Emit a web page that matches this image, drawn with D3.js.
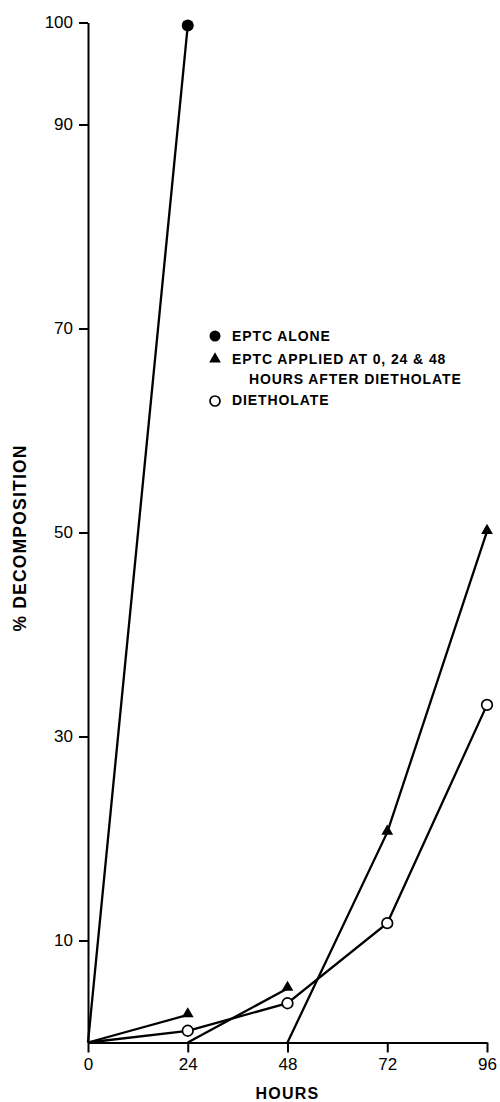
<!DOCTYPE html>
<html>
<head>
<meta charset="utf-8">
<script src="https://cdn.jsdelivr.net/npm/d3@7"></script>
<style>
  html, body { margin: 0; padding: 0; background: #fff; }
  svg { display: block; }
  text { font-family: Arial, "Liberation Sans", Helvetica, sans-serif; fill: #000; }
</style>
</head>
<body>
<svg id="chart" width="500" height="1102"></svg>
<script>
// ---- data ----
const xTicks = [0, 24, 48, 72, 96];
const yTicks = [10, 30, 50, 70, 90, 100];
const xLabel = "HOURS";
const yLabel = "% DECOMPOSITION";

// EPTC alone (filled circles)
const eptcAloneHours = [0, 24];
const eptcAloneValues = [0, 99.7];

// EPTC applied at 0, 24 & 48 hours after dietholate (filled triangles), three segments
const appliedAt0Hours = [0, 24];
const appliedAt0Values = [0, 2.7];
const appliedAt24Hours = [24, 48];
const appliedAt24Values = [0, 5.3];
const appliedAt48Hours = [48, 72, 96];
const appliedAt48Values = [0, 20.6, 50.1];

// Dietholate (open circles)
const dietholateHours = [0, 24, 48, 72, 96];
const dietholateValues = [0, 1.15, 3.85, 11.7, 33.1];

const legendLabels = [
  ["EPTC ALONE"],
  ["EPTC APPLIED AT 0, 24 & 48", "HOURS AFTER DIETHOLATE"],
  ["DIETHOLATE"]
];

// ---- chart ----
const svg = d3.select("#chart");
const x = d3.scaleLinear().domain([0, 96]).range([88, 487]);
const y = d3.scaleLinear().domain([0, 100]).range([1042.5, 22.5]);

const zip = (xs, ys) => xs.map((h, i) => ({ h, v: ys[i] }));

// axes
const yAxis = d3.axisLeft(y).tickValues(yTicks).tickSize(9).tickSizeOuter(0).tickPadding(6);
const gy = svg.append("g").attr("transform", `translate(${x(0)},0)`).call(yAxis);
gy.select(".domain").attr("stroke", "#000").attr("stroke-width", 2);
gy.selectAll(".tick line").attr("stroke", "#000").attr("stroke-width", 2);
gy.selectAll(".tick text").attr("font-size", 17).attr("font-family", "Arial, 'Liberation Sans', sans-serif").attr("fill", "#000");

const xAxis = d3.axisBottom(x).tickValues(xTicks).tickSize(10).tickSizeOuter(0).tickPadding(5);
const gx = svg.append("g").attr("transform", `translate(0,${y(0)})`).call(xAxis);
gx.select(".domain").attr("stroke", "#000").attr("stroke-width", 2);
gx.selectAll(".tick line").attr("stroke", "#000").attr("stroke-width", 2);
gx.selectAll(".tick text").attr("font-size", 17).attr("font-family", "Arial, 'Liberation Sans', sans-serif").attr("fill", "#000");

// axis titles
svg.append("text")
  .attr("x", (x(0) + x(96)) / 2)
  .attr("y", 1099)
  .attr("text-anchor", "middle")
  .attr("font-size", 16)
  .attr("font-weight", "bold")
  .attr("letter-spacing", 1.2)
  .text(xLabel);

svg.append("text")
  .attr("transform", `translate(26,538) rotate(-90)`)
  .attr("text-anchor", "middle")
  .attr("font-size", 17.5)
  .attr("font-weight", "bold")
  .attr("letter-spacing", 1.2)
  .text(yLabel);

// lines
const line = d3.line().x(d => x(d.h)).y(d => y(d.v));
const series = [
  zip(eptcAloneHours, eptcAloneValues),
  zip(appliedAt0Hours, appliedAt0Values),
  zip(appliedAt24Hours, appliedAt24Values),
  zip(appliedAt48Hours, appliedAt48Values),
  zip(dietholateHours, dietholateValues)
];
svg.append("g").selectAll("path").data(series).join("path")
  .attr("d", line)
  .attr("fill", "none")
  .attr("stroke", "#000")
  .attr("stroke-width", 2.3);

// markers
const tri = d3.symbol().type(d3.symbolTriangle).size(60);
const triPts = [
  ...zip(appliedAt0Hours, appliedAt0Values).slice(1),
  ...zip(appliedAt24Hours, appliedAt24Values).slice(1),
  ...zip(appliedAt48Hours, appliedAt48Values).slice(1)
];
svg.append("g").selectAll("path").data(triPts).join("path")
  .attr("d", tri)
  .attr("transform", d => `translate(${x(d.h)},${y(d.v) - 1})`)
  .attr("fill", "#000");

svg.append("g").selectAll("circle").data(zip(eptcAloneHours, eptcAloneValues).slice(1)).join("circle")
  .attr("cx", d => x(d.h)).attr("cy", d => y(d.v)).attr("r", 6)
  .attr("fill", "#000");

svg.append("g").selectAll("circle").data(zip(dietholateHours, dietholateValues).slice(1)).join("circle")
  .attr("cx", d => x(d.h)).attr("cy", d => y(d.v)).attr("r", 5.3)
  .attr("fill", "#fff").attr("stroke", "#000").attr("stroke-width", 1.7);

// legend
const lg = svg.append("g");
const lx = 215;
lg.append("circle").attr("cx", lx).attr("cy", 336).attr("r", 5.5).attr("fill", "#000");
lg.append("path").attr("d", tri).attr("transform", `translate(${lx},359)`).attr("fill", "#000");
lg.append("circle").attr("cx", lx).attr("cy", 401).attr("r", 5).attr("fill", "#fff").attr("stroke", "#000").attr("stroke-width", 1.7);

const legendRows = [
  { t: legendLabels[0][0], x: 232, y: 341 },
  { t: legendLabels[1][0], x: 232, y: 364 },
  { t: legendLabels[1][1], x: 249, y: 384 },
  { t: legendLabels[2][0], x: 232, y: 405 }
];
lg.selectAll("text").data(legendRows).join("text")
  .attr("x", d => d.x).attr("y", d => d.y)
  .attr("font-size", 14)
  .attr("font-weight", "bold")
  .attr("letter-spacing", 0.9)
  .text(d => d.t);
</script>
</body>
</html>
